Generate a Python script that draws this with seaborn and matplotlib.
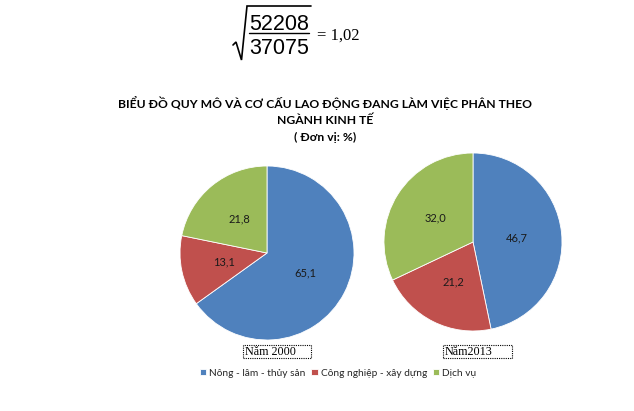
import matplotlib
matplotlib.use("Agg")
import matplotlib.pyplot as plt
from matplotlib.patches import Rectangle
from matplotlib.lines import Line2D
import seaborn as sns

categories = ["Nông - lâm - thủy sản", "Công nghiệp - xây dựng", "Dịch vụ"]
values_2000 = [65.1, 13.1, 21.8]
values_2013 = [46.7, 21.2, 32.0]
year_labels = ["Năm 2000", "Năm2013"]
title_lines = ["BIỂU ĐỒ QUY MÔ VÀ CƠ CẤU LAO ĐỘNG ĐANG LÀM VIỆC PHÂN THEO",
               "NGÀNH KINH TẾ", "( Đơn vị: %)"]
formula_num = "52208"
formula_den = "37075"
formula_result = "= 1,02"
colors = ["#4F81BD", "#C0504D", "#9BBB59"]

sns.set_theme(style="white")
plt.rcParams["font.family"] = ["Lato", "DejaVu Sans"]

W, H = 634, 411
fig = plt.figure(figsize=(W / 100, H / 100), dpi=100)
fig.patch.set_facecolor("white")


def fx(x):
    return x / W


def fy(y):
    return 1 - y / H


def add_pie_axes(cx, cy, r):
    ax = fig.add_axes([(cx - r) / W, 1 - (cy + r) / H, 2 * r / W, 2 * r / H])
    ax.set_axis_off()
    return ax


def fmt(p):
    return f"{p:.1f}".replace(".", ",")


handles = None
for (cx, cy, r), vals in zip([(267, 253, 87), (473, 242, 89)], [values_2000, values_2013]):
    ax = add_pie_axes(cx, cy, r)
    wedges, texts, autotexts = ax.pie(
        vals, colors=colors, startangle=90, counterclock=False,
        radius=1, autopct=lambda p: fmt(p), pctdistance=0.5,
        wedgeprops=dict(edgecolor="white", linewidth=0.6),
        textprops=dict(fontsize=8, color="#1a1a1a"))
    ax.set_xlim(-1, 1)
    ax.set_ylim(-1, 1)
    if handles is None:
        handles = wedges

# Year labels with dotted boxes
for lab, (x0, x1) in zip(year_labels, [(243, 311), (443, 512)]):
    fig.add_artist(Rectangle((fx(x0), fy(358)), (x1 - x0) / W, 13 / H,
                             transform=fig.transFigure, fill=False,
                             linestyle=(0, (1, 1)), linewidth=0.8, edgecolor="black"))
    fig.text(fx(x0 + 2), fy(351.5), lab, ha="left", va="center",
             fontsize=8.7, family=["Liberation Serif"], color="black")

# Legend
leg = fig.legend(handles, categories, loc="center", bbox_to_anchor=(fx(338), fy(373)),
                 ncol=3, frameon=False, fontsize=7.3, handlelength=0.6, handleheight=0.6,
                 handletextpad=0.3, columnspacing=0.6, borderaxespad=0)

# Title
for line, y in zip(title_lines, [103, 120, 137]):
    fig.text(fx(325), fy(y), line, ha="center", va="center",
             fontsize=8.7, fontweight="bold", color="black")

# Formula: square root of a fraction
fig.text(fx(279), fy(24), formula_num, ha="center", va="center",
         fontsize=15.5, family=["Liberation Sans"], color="black")
fig.text(fx(279), fy(49), formula_den, ha="center", va="center",
         fontsize=15.5, family=["Liberation Sans"], color="black")
fig.add_artist(Line2D([fx(249), fx(309)], [fy(33), fy(33)], color="black", lw=1.0,
                      transform=fig.transFigure))
fig.add_artist(Line2D([fx(233), fx(236), fx(241.5), fx(247), fx(311)],
                      [fy(45), fy(42), fy(60), fy(6), fy(6)], color="black", lw=1.2,
                      solid_joinstyle="miter", transform=fig.transFigure))
fig.text(fx(317), fy(36), formula_result, ha="left", va="center",
         fontsize=12, family=["Liberation Serif"], color="black")

fig.savefig("out.png", dpi=100, facecolor="white")
